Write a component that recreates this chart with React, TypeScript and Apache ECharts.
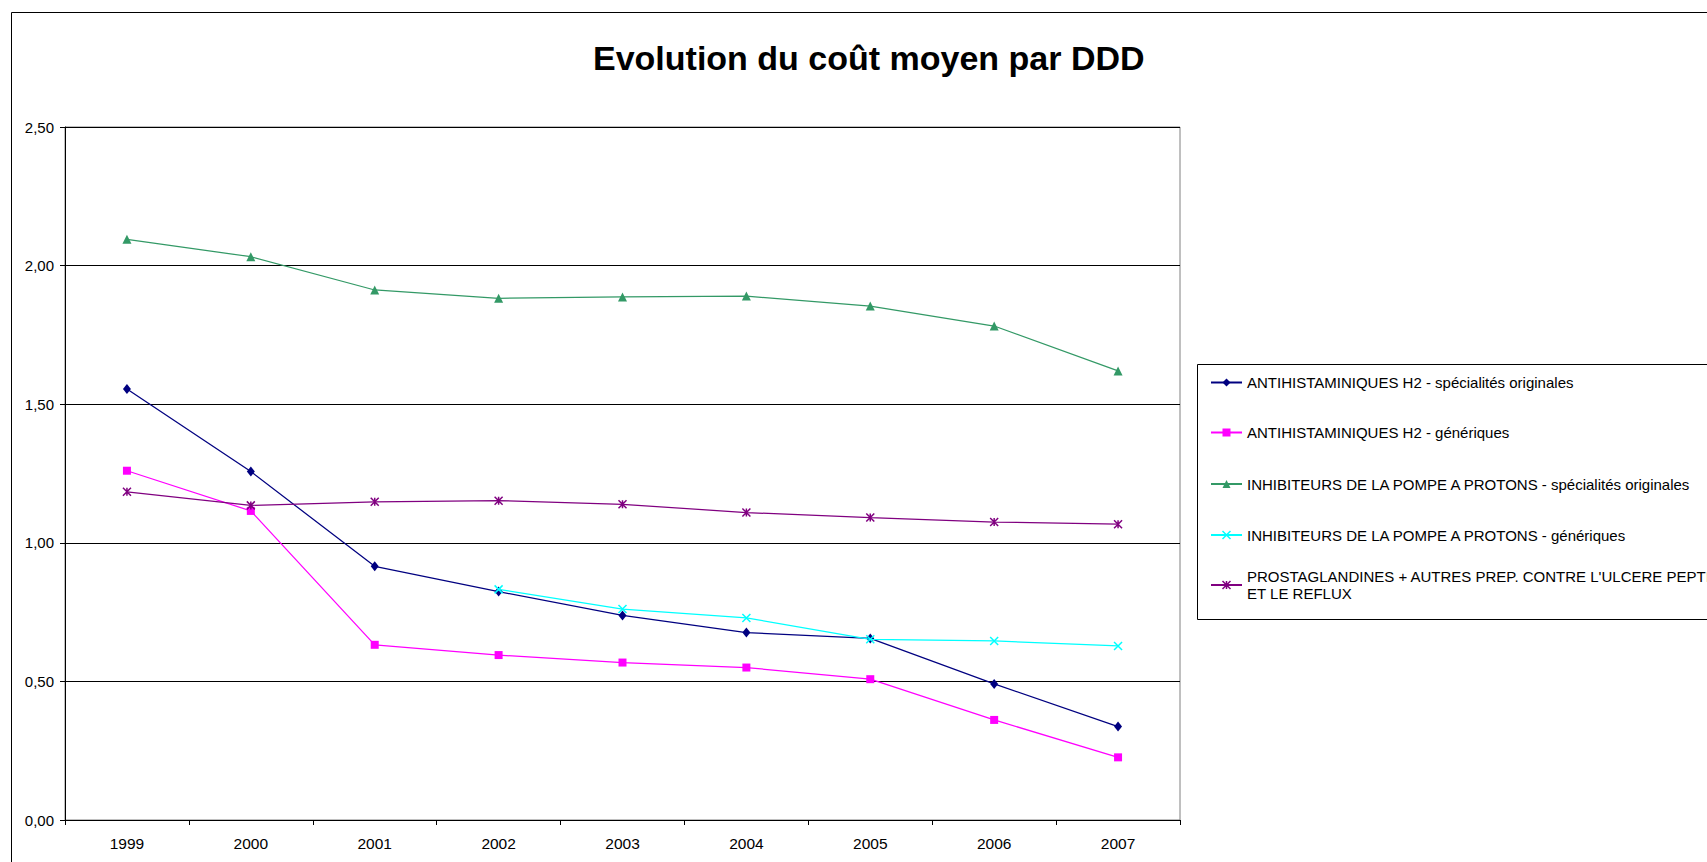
import React, { useEffect, useRef } from 'react';
import * as echarts from 'echarts';

const years = ['1999', '2000', '2001', '2002', '2003', '2004', '2005', '2006', '2007'];

const seriesNames = [
  'ANTIHISTAMINIQUES H2 - spécialités originales',
  'ANTIHISTAMINIQUES H2 - génériques',
  'INHIBITEURS DE LA POMPE A PROTONS - spécialités originales',
  'INHIBITEURS DE LA POMPE A PROTONS - génériques',
  "PROSTAGLANDINES + AUTRES PREP. CONTRE L'ULCERE PEPTIQUE ET LE REFLUX",
];

const ah2Originales = [1.555, 1.257, 0.915, 0.824, 0.738, 0.676, 0.655, 0.491, 0.337];
const ah2Generiques = [1.26, 1.115, 0.632, 0.595, 0.568, 0.55, 0.508, 0.361, 0.226];
const ippOriginales = [2.095, 2.032, 1.912, 1.882, 1.887, 1.89, 1.854, 1.782, 1.62];
const ippGeneriques = [null, null, null, 0.832, 0.761, 0.729, 0.652, 0.646, 0.628];
const prostaglandines = [1.184, 1.135, 1.148, 1.152, 1.139, 1.109, 1.091, 1.075, 1.067];

const titleText = 'Evolution du coût moyen par DDD';

const FONT = '"Liberation Sans", Arial, Helvetica, sans-serif';

export default function App() {
  const ref = useRef<HTMLDivElement>(null);

  useEffect(() => {
    if (!ref.current) return;
    const chart = echarts.init(ref.current, null, { renderer: 'svg' });

    const specs = [
      { data: ah2Originales, color: '#000080', symbol: 'diamond', size: [8, 10], stroke: false },
      { data: ah2Generiques, color: '#FF00FF', symbol: 'rect', size: 8, stroke: false },
      { data: ippOriginales, color: '#339966', symbol: 'triangle', size: 9, stroke: false },
      { data: ippGeneriques, color: '#00FFFF', symbol: 'path://M0,0L10,10M0,10L10,0', size: 8, stroke: true },
      { data: prostaglandines, color: '#800080', symbol: 'path://M0,0L10,10M0,10L10,0M5,0L5,10', size: 8, stroke: true },
    ];

    const legendTops = [374, 424, 475.5, 526.5, 559.5];

    const option: any = {
      animation: false,
      backgroundColor: '#ffffff',
      title: {
        text: titleText,
        left: 593,
        top: 41,
        padding: 0,
        textStyle: { fontFamily: FONT, fontSize: 34, fontWeight: 'bold', color: '#000' },
      },
      grid: {
        left: 65,
        top: 127,
        width: 1115,
        height: 693,
        show: true,
        borderColor: '#808080',
        borderWidth: 1,
        backgroundColor: 'transparent',
        outerBoundsMode: 'none',
      },
      xAxis: {
        type: 'category',
        data: years,
        boundaryGap: true,
        axisLine: { show: true, lineStyle: { color: '#000', width: 1 } },
        axisTick: { show: true, length: 5, interval: 0, alignWithLabel: false, lineStyle: { color: '#000' } },
        axisLabel: { interval: 0, fontSize: 15.5, fontFamily: FONT, color: '#000', margin: 15.5 },
        splitLine: { show: false },
      },
      yAxis: {
        type: 'value',
        min: 0,
        max: 2.5,
        interval: 0.5,
        axisLine: { show: true, lineStyle: { color: '#000', width: 1 } },
        axisTick: { show: true, length: 5, lineStyle: { color: '#000' } },
        axisLabel: {
          fontSize: 15,
          fontFamily: FONT,
          color: '#000',
          margin: 11,
          formatter: (v: number) => v.toFixed(2).replace('.', ','),
        },
        splitLine: { show: true, lineStyle: { color: '#000', width: 1 } },
      },
      legend: specs.map((s, i) => ({
        data: [
          {
            name: seriesNames[i],
            itemStyle: { color: s.color, borderColor: s.color, borderWidth: s.stroke ? 1.5 : 0 },
          },
        ],
        left: 1210,
        top: legendTops[i],
        orient: 'vertical',
        padding: 0,
        itemWidth: 31,
        itemHeight: 10,
        selectedMode: false,
        formatter: (name: string) => name.replace(' ET LE REFLUX', '\nET LE REFLUX'),
        textStyle: {
          fontSize: 15,
          fontFamily: FONT,
          color: '#000',
          lineHeight: 17,
          ...(i === 4 ? { padding: [17, 0, 0, 0] } : {}),
        },
      })),
      graphic: [
        {
          type: 'rect',
          silent: true,
          z: -1,
          shape: { x: 11.5, y: 12.5, width: 3000, height: 3000 },
          style: { fill: 'none', stroke: '#000', lineWidth: 1 },
        },
        {
          type: 'rect',
          silent: true,
          shape: { x: 1197.5, y: 364.5, width: 1000, height: 255 },
          style: { fill: 'none', stroke: '#000', lineWidth: 1 },
        },
      ],
      series: specs.map((s, i) => ({
        name: seriesNames[i],
        type: 'line',
        data: s.data,
        symbol: s.symbol,
        symbolSize: s.size,
        showSymbol: true,
        connectNulls: false,
        lineStyle: { color: s.color, width: 1.25 },
        itemStyle: { color: s.color, borderColor: s.color, borderWidth: s.stroke ? 1.5 : 0 },
        emphasis: { disabled: true },
        z: 2 + i,
      })),
    };

    chart.setOption(option);
    return () => chart.dispose();
  }, []);

  return (
    <div
      ref={ref}
      style={{ position: 'fixed', left: 0, top: 0, width: 1707, height: 862, background: '#fff' }}
    />
  );
}
